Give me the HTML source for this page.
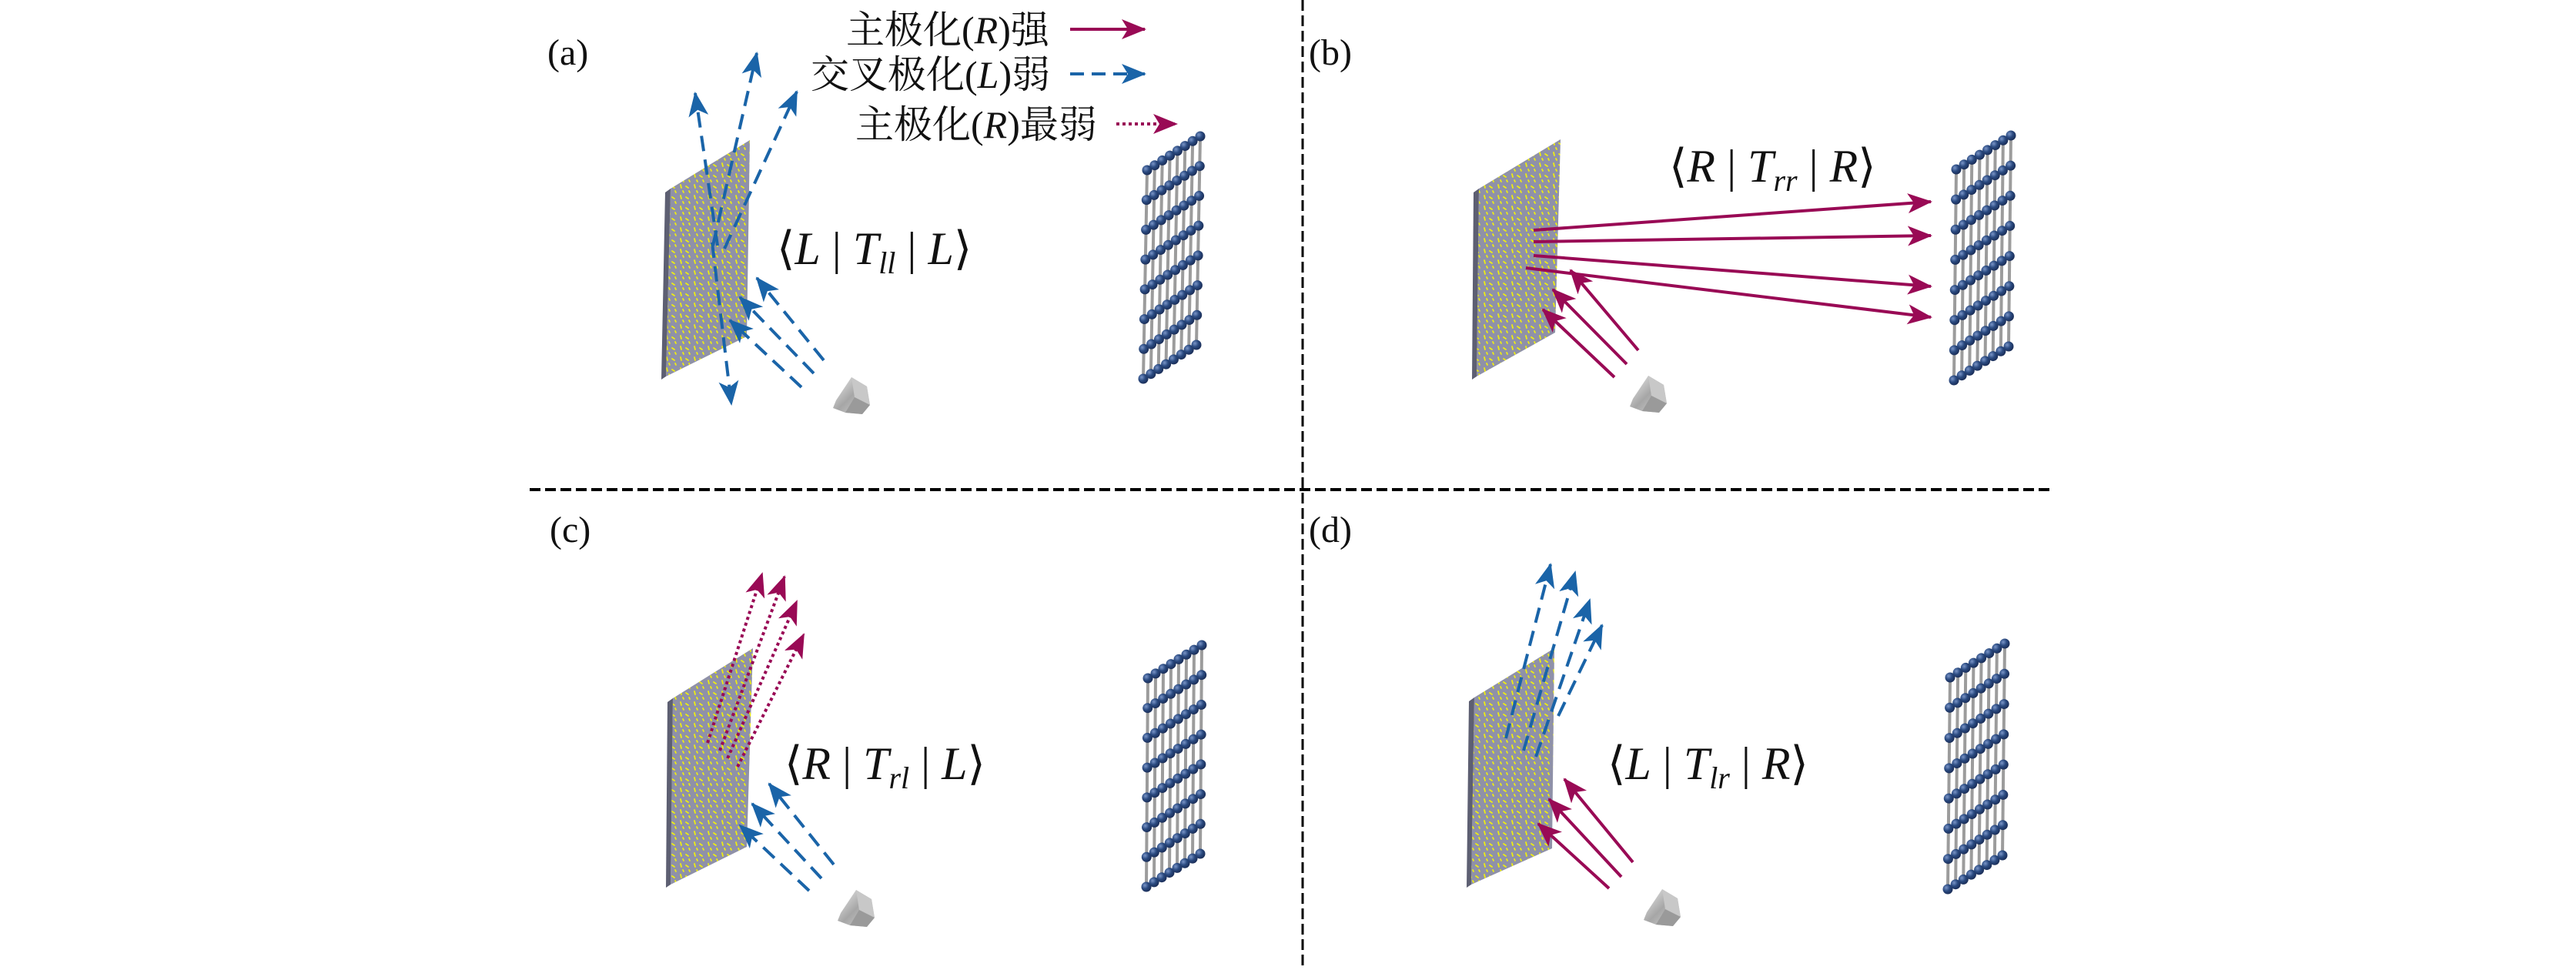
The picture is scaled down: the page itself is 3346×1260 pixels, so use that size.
<!DOCTYPE html>
<html><head><meta charset="utf-8"><style>
html,body{margin:0;padding:0;background:#fff}
svg{display:block}
.cj{font-family:"Liberation Serif","Noto Serif CJK SC","Noto Sans CJK SC",serif;font-size:50px;fill:#111}
.m{font-family:"Liberation Serif",serif;font-size:60px;fill:#111}
.lab{font-family:"Liberation Serif",serif;font-size:48px;fill:#111}
</style></head><body>
<svg width="3346" height="1260" viewBox="0 0 3346 1260" xmlns="http://www.w3.org/2000/svg">
<defs>
<marker id="hm" markerUnits="userSpaceOnUse" markerWidth="34" markerHeight="26" refX="30" refY="13" orient="auto">
<path d="M0,0 L32,13 L0,26 L8,13 z" fill="#990a55"/></marker>
<marker id="hb" markerUnits="userSpaceOnUse" markerWidth="34" markerHeight="26" refX="30" refY="13" orient="auto">
<path d="M0,0 L32,13 L0,26 L8,13 z" fill="#1a64a8"/></marker>
<pattern id="yd" width="18" height="14" patternUnits="userSpaceOnUse">
<rect width="18" height="14" fill="#8f91a8"/>
<path d="M2,2 L3,6 M9,4 L12,6 M13,10 L14,12 M5,10 L6,12" stroke="#eeee10" stroke-width="1.8" stroke-linecap="round"/>
</pattern>
<linearGradient id="sg" x1="0" y1="0" x2="1" y2="1"><stop offset="0" stop-color="#eeeeee"/><stop offset="0.5" stop-color="#a6a6a6"/><stop offset="1" stop-color="#d8d8d8"/></linearGradient>
<radialGradient id="ball" cx="0.35" cy="0.35" r="0.7"><stop offset="0" stop-color="#7a95c8"/><stop offset="0.5" stop-color="#2a4a80"/><stop offset="1" stop-color="#1a2c55"/></radialGradient>
<g id="src">
<path d="M6,30 L26,0 L46,12 L50,36 L40,48 L18,46 L2,40 z" fill="url(#sg)"/>
<path d="M26,0 L46,12 L50,36 L30,26 z" fill="#c8c8c8"/>
<path d="M18,46 L30,26 L50,36 L40,48 z" fill="#9a9a9a"/>
</g>
</defs>

<line x1="1692" y1="0" x2="1692" y2="1260" stroke="#000" stroke-width="3" stroke-dasharray="14,6"/>
<line x1="688" y1="636" x2="2664" y2="636" stroke="#000" stroke-width="4" stroke-dasharray="14,6"/>

<text class="lab" x="711" y="84">(a)</text>
<text class="lab" x="1700" y="84">(b)</text>
<text class="lab" x="714" y="704">(c)</text>
<text class="lab" x="1700" y="704">(d)</text>

<text class="cj" x="1099" y="56">主极化(<tspan font-style="italic">R</tspan>)强</text>
<line x1="1390" y1="38" x2="1487" y2="38" stroke="#990a55" stroke-width="4" marker-end="url(#hm)"/>
<text class="cj" x="1053" y="114">交叉极化(<tspan font-style="italic">L</tspan>)弱</text>
<line x1="1390" y1="96" x2="1487" y2="96" stroke="#1a64a8" stroke-width="4" stroke-dasharray="18,10" marker-end="url(#hb)"/>
<text class="cj" x="1111" y="179">主极化(<tspan font-style="italic">R</tspan>)最弱</text>
<line x1="1450" y1="161" x2="1528" y2="161" stroke="#990a55" stroke-width="4" stroke-dasharray="4,4" marker-end="url(#hm)"/>

<g>
<polygon points="871,245 974,182 970,437 865,489" fill="url(#yd)"/>
<polygon points="864,250 871,245 865,489 859,493" fill="#5d5f72"/>
<polygon points="1921,245 2027,181 2020,432 1918,489" fill="url(#yd)"/>
<polygon points="1914,250 1921,245 1918,489 1912,493" fill="#5d5f72"/>
<polygon points="874,907 978,842 970,1100 871,1149" fill="url(#yd)"/>
<polygon points="867,912 874,907 871,1149 865,1153" fill="#5d5f72"/>
<polygon points="1915,906 2019,842 2016,1102 1911,1149" fill="url(#yd)"/>
<polygon points="1908,911 1915,906 1911,1149 1905,1153" fill="#5d5f72"/>
</g>

<use href="#src" x="1080" y="490"/>
<use href="#src" x="2115" y="488"/>
<use href="#src" x="1086" y="1156"/>
<use href="#src" x="2133" y="1155"/>

<g id="lat"></g>

<g stroke="#1a64a8" stroke-width="4" stroke-dasharray="20,11" fill="none">
<line x1="1070" y1="468" x2="983" y2="361" marker-end="url(#hb)"/>
<line x1="1057" y1="485" x2="961" y2="386" marker-end="url(#hb)"/>
<line x1="1041" y1="503" x2="948" y2="416" marker-end="url(#hb)"/>
<line x1="932" y1="319" x2="903" y2="121" marker-end="url(#hb)"/>
<line x1="925" y1="315" x2="950" y2="525" marker-end="url(#hb)"/>
<line x1="926" y1="319" x2="983" y2="69" marker-end="url(#hb)"/>
<line x1="941" y1="323" x2="1035" y2="119" marker-end="url(#hb)"/>
</g>
<text class="m" x="1009" y="343">⟨<tspan font-style="italic">L</tspan> | <tspan font-style="italic">T</tspan><tspan font-style="italic" font-size="40" dy="12">ll</tspan><tspan dy="-12"> | </tspan><tspan font-style="italic">L</tspan>⟩</text>

<g stroke="#990a55" stroke-width="4" fill="none">
<line x1="1992" y1="299" x2="2508" y2="262" marker-end="url(#hm)"/>
<line x1="1992" y1="314" x2="2508" y2="306" marker-end="url(#hm)"/>
<line x1="1992" y1="332" x2="2508" y2="372" marker-end="url(#hm)"/>
<line x1="1982" y1="348" x2="2508" y2="412" marker-end="url(#hm)"/>
<line x1="2128" y1="455" x2="2040" y2="351" marker-end="url(#hm)"/>
<line x1="2113" y1="473" x2="2017" y2="376" marker-end="url(#hm)"/>
<line x1="2097" y1="490" x2="2004" y2="402" marker-end="url(#hm)"/>
</g>
<text class="m" x="2168" y="236">⟨<tspan font-style="italic">R</tspan> | <tspan font-style="italic">T</tspan><tspan font-style="italic" font-size="40" dy="12">rr</tspan><tspan dy="-12"> | </tspan><tspan font-style="italic">R</tspan>⟩</text>

<g stroke="#990a55" stroke-width="4" stroke-dasharray="4,4" fill="none">
<line x1="919" y1="965" x2="990" y2="745" marker-end="url(#hm)"/>
<line x1="935" y1="975" x2="1019" y2="749" marker-end="url(#hm)"/>
<line x1="945" y1="985" x2="1035" y2="781" marker-end="url(#hm)"/>
<line x1="958" y1="996" x2="1044" y2="824" marker-end="url(#hm)"/>
</g>
<g stroke="#1a64a8" stroke-width="4" stroke-dasharray="20,11" fill="none">
<line x1="1083" y1="1123" x2="999" y2="1018" marker-end="url(#hb)"/>
<line x1="1067" y1="1141" x2="977" y2="1044" marker-end="url(#hb)"/>
<line x1="1051" y1="1157" x2="961" y2="1072" marker-end="url(#hb)"/>
</g>
<text class="m" x="1019" y="1012">⟨<tspan font-style="italic">R</tspan> | <tspan font-style="italic">T</tspan><tspan font-style="italic" font-size="40" dy="12">rl</tspan><tspan dy="-12"> | </tspan><tspan font-style="italic">L</tspan>⟩</text>

<g stroke="#1a64a8" stroke-width="4" stroke-dasharray="20,11" fill="none">
<line x1="1956" y1="959" x2="2014" y2="733" marker-end="url(#hb)"/>
<line x1="1979" y1="975" x2="2046" y2="743" marker-end="url(#hb)"/>
<line x1="1995" y1="983" x2="2065" y2="779" marker-end="url(#hb)"/>
<line x1="2024" y1="930" x2="2081" y2="812" marker-end="url(#hb)"/>
</g>
<g stroke="#990a55" stroke-width="4" fill="none">
<line x1="2121" y1="1120" x2="2032" y2="1012" marker-end="url(#hm)"/>
<line x1="2106" y1="1139" x2="2012" y2="1038" marker-end="url(#hm)"/>
<line x1="2090" y1="1154" x2="1998" y2="1070" marker-end="url(#hm)"/>
</g>
<text class="m" x="2088" y="1012">⟨<tspan font-style="italic">L</tspan> | <tspan font-style="italic">T</tspan><tspan font-style="italic" font-size="40" dy="12">lr</tspan><tspan dy="-12"> | </tspan><tspan font-style="italic">R</tspan>⟩</text>

<script>
(function(){
var ns="http://www.w3.org/2000/svg";
var lats=[[1490,221,1559,177,1485,492],[2541,220,2612,176,2538,494],[1491,881,1561,838,1489,1152],[2533,880,2604,836,2530,1155]];
var g=document.getElementById('lat');
lats.forEach(function(L){
 var tlx=L[0],tly=L[1],dx=(L[2]-L[0])/7,dy=(L[3]-L[1])/7,vx=(L[4]-L[0])/7,vy=(L[5]-L[1])/7;
 for(var i=0;i<8;i++){var l=document.createElementNS(ns,'line');
  l.setAttribute('x1',tlx+i*dx);l.setAttribute('y1',tly+i*dy);l.setAttribute('x2',tlx+i*dx+7*vx);l.setAttribute('y2',tly+i*dy+7*vy);
  l.setAttribute('stroke','#9c9c9c');l.setAttribute('stroke-width','4');g.appendChild(l);}
 for(var j=0;j<8;j++){var l=document.createElementNS(ns,'line');
  l.setAttribute('x1',tlx+j*vx);l.setAttribute('y1',tly+j*vy);l.setAttribute('x2',tlx+j*vx+7*dx);l.setAttribute('y2',tly+j*vy+7*dy);
  l.setAttribute('stroke','#c8c8c8');l.setAttribute('stroke-width','4');g.appendChild(l);
  for(var i=0;i<8;i++){var c=document.createElementNS(ns,'circle');
   c.setAttribute('cx',tlx+i*dx+j*vx);c.setAttribute('cy',tly+i*dy+j*vy);c.setAttribute('r','6.5');
   c.setAttribute('fill','url(#ball)');g.appendChild(c);}}
});
})();
</script>
</svg>
</body></html>
